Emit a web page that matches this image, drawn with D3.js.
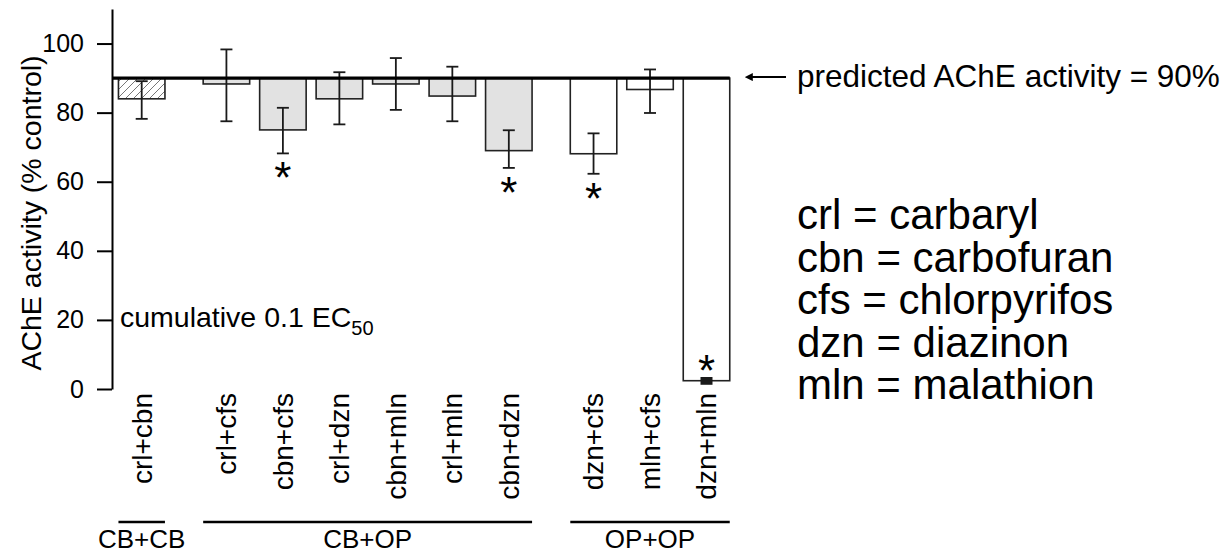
<!DOCTYPE html>
<style>
body { margin: 0; background: #fff; }
svg { font-family: "Liberation Sans", Arial, Helvetica, sans-serif; }
.axis .domain, .axis line { stroke: #000; stroke-width: 2px; }
.axis text { font-size: 25px; fill: #000; }
</style>
<svg width="1230" height="553"></svg>
<script src="https://d3js.org/d3.v7.min.js"></script>
<script>

// data
var labels = ["crl+cbn", "crl+cfs", "cbn+cfs", "crl+dzn", "cbn+mln", "crl+mln", "cbn+dzn", "dzn+cfs", "mln+cfs", "dzn+mln"];
var groupOf = [0, 1, 1, 1, 1, 1, 1, 2, 2, 2];
var means   = [84.0, 88.3, 75.0, 84.0, 88.3, 84.8, 69.0, 68.1, 86.7, 2.4];
var errLow  = [78.2, 77.5, 68.2, 76.6, 80.8, 77.5, 64.0, 62.3, 79.9, 1.8];
var errHigh = [89.1, 98.3, 81.4, 91.7, 95.8, 93.3, 74.9, 74.0, 92.5, 2.9];
var signif  = [false, false, true, false, false, false, true, true, false, true];
var groups = ["CB+CB", "CB+OP", "OP+OP"];
var predicted = 90;
var yTicks = [0, 20, 40, 60, 80, 100];
var legendLines = ["crl = carbaryl", "cbn = carbofuran", "cfs = chlorpyrifos", "dzn = diazinon", "mln = malathion"];

var svg = d3.select("svg");

var x = d3.scaleLinear().domain([0, 10]).range([141.7, 706.5]),
    y = d3.scaleLinear().domain([0, 110]).range([389, 9]),
    barW = 46.5;

var groupFill = ["url(#hatch)", "#e2e2e2", "#fff"];

function pos(i) { return i + 0.5 * groupOf[i]; }

var defs = svg.append("defs");
var pat = defs.append("pattern")
    .attr("id", "hatch")
    .attr("patternUnits", "userSpaceOnUse")
    .attr("width", 8)
    .attr("height", 8);
pat.append("rect").attr("width", 8).attr("height", 8).attr("fill", "#fff");
pat.append("path")
    .attr("d", "M-2,2 L2,-2 M0,8 L8,0 M6,10 L10,6")
    .attr("stroke", "#777")
    .attr("stroke-width", 1);

defs.append("marker")
    .attr("id", "arrow")
    .attr("viewBox", "0 0 10 10")
    .attr("refX", 1).attr("refY", 5)
    .attr("markerWidth", 4).attr("markerHeight", 4)
    .attr("orient", "auto-start-reverse")
  .append("path")
    .attr("d", "M0,0 L10,5 L0,10 z")
    .attr("fill", "#000");

var idx = d3.range(labels.length);

// bars hang down from the predicted line
svg.append("g")
  .selectAll("rect")
  .data(idx)
  .enter().append("rect")
    .attr("x", function(i) { return x(pos(i)) - barW / 2; })
    .attr("y", y(predicted))
    .attr("width", barW)
    .attr("height", function(i) { return y(means[i]) - y(predicted); })
    .attr("fill", function(i) { return groupFill[groupOf[i]]; })
    .attr("stroke", "#222")
    .attr("stroke-width", 1.6);

// error bars
var eb = svg.append("g")
    .attr("stroke", "#1a1a1a")
    .attr("stroke-width", 1.8)
  .selectAll("g")
  .data(idx)
  .enter().append("g");

eb.append("line")
    .attr("x1", function(i) { return x(pos(i)); })
    .attr("x2", function(i) { return x(pos(i)); })
    .attr("y1", function(i) { return y(errHigh[i]); })
    .attr("y2", function(i) { return y(errLow[i]); });

eb.selectAll("line.cap")
  .data(function(i) { return [[i, errHigh[i]], [i, errLow[i]]]; })
  .enter().append("line")
    .attr("class", "cap")
    .attr("x1", function(d) { return x(pos(d[0])) - 6; })
    .attr("x2", function(d) { return x(pos(d[0])) + 6; })
    .attr("y1", function(d) { return y(d[1]); })
    .attr("y2", function(d) { return y(d[1]); })
    .attr("stroke-width", function(d) { return y(errLow[d[0]]) - y(errHigh[d[0]]) < 8 ? 4 : null; });

// significance stars
svg.append("g")
  .selectAll("text")
  .data(idx.filter(function(i) { return signif[i]; }))
  .enter().append("text")
    .attr("x", function(i) { return x(pos(i)); })
    .attr("y", function(i) {
      var c = y(errLow[i]) + 21;
      if (c > y(0) - 10) c = y(errHigh[i]) - 12;
      return c + 19;
    })
    .attr("text-anchor", "middle")
    .attr("font-size", 44)
    .text("*");

// predicted line
svg.append("line")
    .attr("x1", x.range()[0] - barW / 2 - 6)
    .attr("x2", x(pos(9)) + barW / 2)
    .attr("y1", y(predicted))
    .attr("y2", y(predicted))
    .attr("stroke", "#000")
    .attr("stroke-width", 3.2);

svg.append("line")
    .attr("x1", 786)
    .attr("x2", 752)
    .attr("y1", y(predicted) - 1)
    .attr("y2", y(predicted) - 1)
    .attr("stroke", "#000")
    .attr("stroke-width", 2)
    .attr("marker-end", "url(#arrow)");

svg.append("text")
    .attr("x", 797)
    .attr("y", y(predicted) + 9)
    .attr("font-size", 31.5)
    .text("predicted AChE activity = " + predicted + "%");

// y axis
svg.append("g")
    .attr("class", "axis")
    .attr("transform", "translate(112,0)")
    .call(d3.axisLeft(y).tickValues(yTicks).tickSize(15).tickSizeOuter(0).tickPadding(13));

svg.append("text")
    .attr("transform", "translate(31," + 213 + ") rotate(-90)")
    .attr("text-anchor", "middle")
    .attr("dy", "0.35em")
    .attr("font-size", 28.5)
    .text("AChE activity (% control)");

var cum = svg.append("text")
    .attr("x", 120)
    .attr("y", 327)
    .attr("font-size", 28.5)
    .text("cumulative 0.1 EC");
cum.append("tspan")
    .attr("dy", 8)
    .attr("font-size", 20)
    .text("50");

// category labels
svg.append("g")
  .selectAll("text")
  .data(idx)
  .enter().append("text")
    .attr("transform", function(i) { return "translate(" + x(pos(i)) + ",393) rotate(-90)"; })
    .attr("text-anchor", "end")
    .attr("dy", "0.35em")
    .attr("font-size", 28)
    .text(function(i) { return labels[i]; });

// group brackets
var gg = svg.append("g")
  .selectAll("g")
  .data(groups)
  .enter().append("g");

function groupExtent(g) {
  var m = idx.filter(function(i) { return groupOf[i] === g; });
  return [x(pos(m[0])) - barW / 2, x(pos(m[m.length - 1])) + barW / 2];
}

gg.append("line")
    .attr("x1", function(d, g) { return groupExtent(g)[0]; })
    .attr("x2", function(d, g) { return groupExtent(g)[1]; })
    .attr("y1", 522)
    .attr("y2", 522)
    .attr("stroke", "#000")
    .attr("stroke-width", 2.5);

gg.append("text")
    .attr("x", function(d, g) { var e = groupExtent(g); return (e[0] + e[1]) / 2; })
    .attr("y", 548)
    .attr("text-anchor", "middle")
    .attr("font-size", 26)
    .text(function(d) { return d; });

// abbreviations
svg.append("g")
    .attr("font-size", 42)
  .selectAll("text")
  .data(legendLines)
  .enter().append("text")
    .attr("x", 797)
    .attr("y", function(d, i) { return 229 + i * 42.5; })
    .text(function(d) { return d; });

</script>
